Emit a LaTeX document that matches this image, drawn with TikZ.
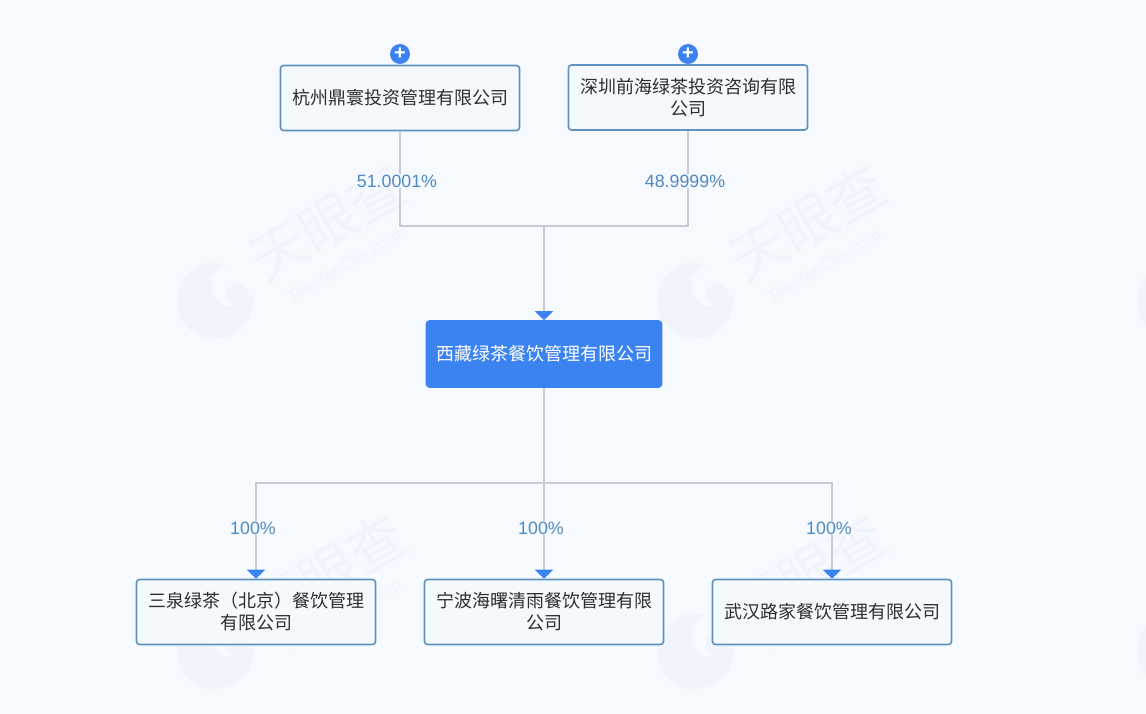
\documentclass[tikz,border=0pt]{standalone}
\usepackage{fontspec}
\setmainfont{Liberation Sans}
\newfontfamily\cjk{Noto Sans CJK SC}
\usetikzlibrary{arrows.meta}
\definecolor{pagebg}{HTML}{F6F9FE}
\definecolor{boxfill}{HTML}{F4F9FE}
\definecolor{boxline}{HTML}{5F92BE}
\definecolor{mainblue}{HTML}{3C83F2}
\definecolor{linegray}{HTML}{C6CCD6}
\definecolor{pcttext}{HTML}{5089BF}
\definecolor{markfill}{HTML}{F0F5FC}
\tikzset{
  holder/.style={draw=boxline,fill=boxfill,line width=1.6pt,rounded corners=3pt,minimum width=239pt,minimum height=65pt,align=center,text=black!82,inner sep=0pt,font=\cjk\fontsize{18}{22}\selectfont},
  target/.style={holder,draw=mainblue,fill=mainblue,text=white,minimum width=235pt,minimum height=66pt},
  pct/.style={fill=pagebg,text=pcttext,inner sep=1pt,font=\fontsize{17.8}{20}\selectfont},
  plusdot/.style={circle,fill=mainblue,text=white,minimum size=20pt,inner sep=0pt,font=\bfseries\fontsize{20}{20}\selectfont},
  link/.style={draw=linegray,line width=2pt},
  tip/.style={-{Triangle[length=9pt,width=18pt,color=mainblue,fill=mainblue]}},
  markbig/.style={text=markfill,rotate=30,font=\cjk\fontsize{56}{58}\selectfont},
  marksmall/.style={text=markfill,rotate=30,font=\fontsize{17}{18}\selectfont}
}
\begin{document}
\begin{tikzpicture}[x=1pt,y=-1pt]
\useasboundingbox (0,0) rectangle (1146,714);
\clip (0,0) rectangle (1146,714);
\fill[pagebg] (0,0) rectangle (1146,714);
% watermark
\foreach \mx/\my in {0/0,480/0,960/0,0/350,480/350,960/350}{
  \fill[markfill] (215+\mx,301+\my) circle (38);
  \fill[pagebg] (232+\mx,286+\my) circle (21);
  \fill[markfill] (237+\mx,295+\my) circle (11);
}
\foreach \mx/\my in {0/0,480/0,0/350,480/350}{
  \node[markbig] (big\mx-\my) at (328+\mx,222+\my) {天眼查};
  \node[marksmall] (small\mx-\my) at (344+\mx,266+\my) {TianYanCha.com};
}
% companies
\node[holder] (hangzhou) at (400,98) {\raisebox{1pt}{杭州鼎寰投资管理有限公司}};
\node[holder] (shenzhen) at (688,97.5) {深圳前海绿茶投资咨询有限\\公司};
\node[target] (xizang) at (544,354) {西藏绿茶餐饮管理有限公司};
\node[holder] (sanquan) at (256,612) {三泉绿茶（北京）餐饮管理\\有限公司};
\node[holder] (ningbo) at (544,612) {宁波海曙清雨餐饮管理有限\\公司};
\node[holder] (wuhan) at (832,612) {武汉路家餐饮管理有限公司};
\coordinate (joinup) at (544,226);
\coordinate (joindown) at (544,483);
% links
\draw[link] (hangzhou.south) |- (joinup);
\draw[link] (shenzhen.south) |- (joinup);
\draw[link,tip] (joinup) -- (xizang.north);
\draw[link] (xizang.south) -- (joindown);
\foreach \c in {sanquan,ningbo,wuhan}
\draw[link,tip] (joindown) -| (\c.north);
% labels
\node[plusdot] (plusa) at (400,54) {+};
\node[plusdot] (plusb) at (688,54) {+};
\node[pct] (pcta) at (397,181) {51.0001\%};
\node[pct] (pctb) at (685,181) {48.9999\%};
\foreach \n/\x in {c/253,d/541,e/829}
\node[pct] (pct\n) at (\x,528) {100\%};
\end{tikzpicture}
\end{document}
